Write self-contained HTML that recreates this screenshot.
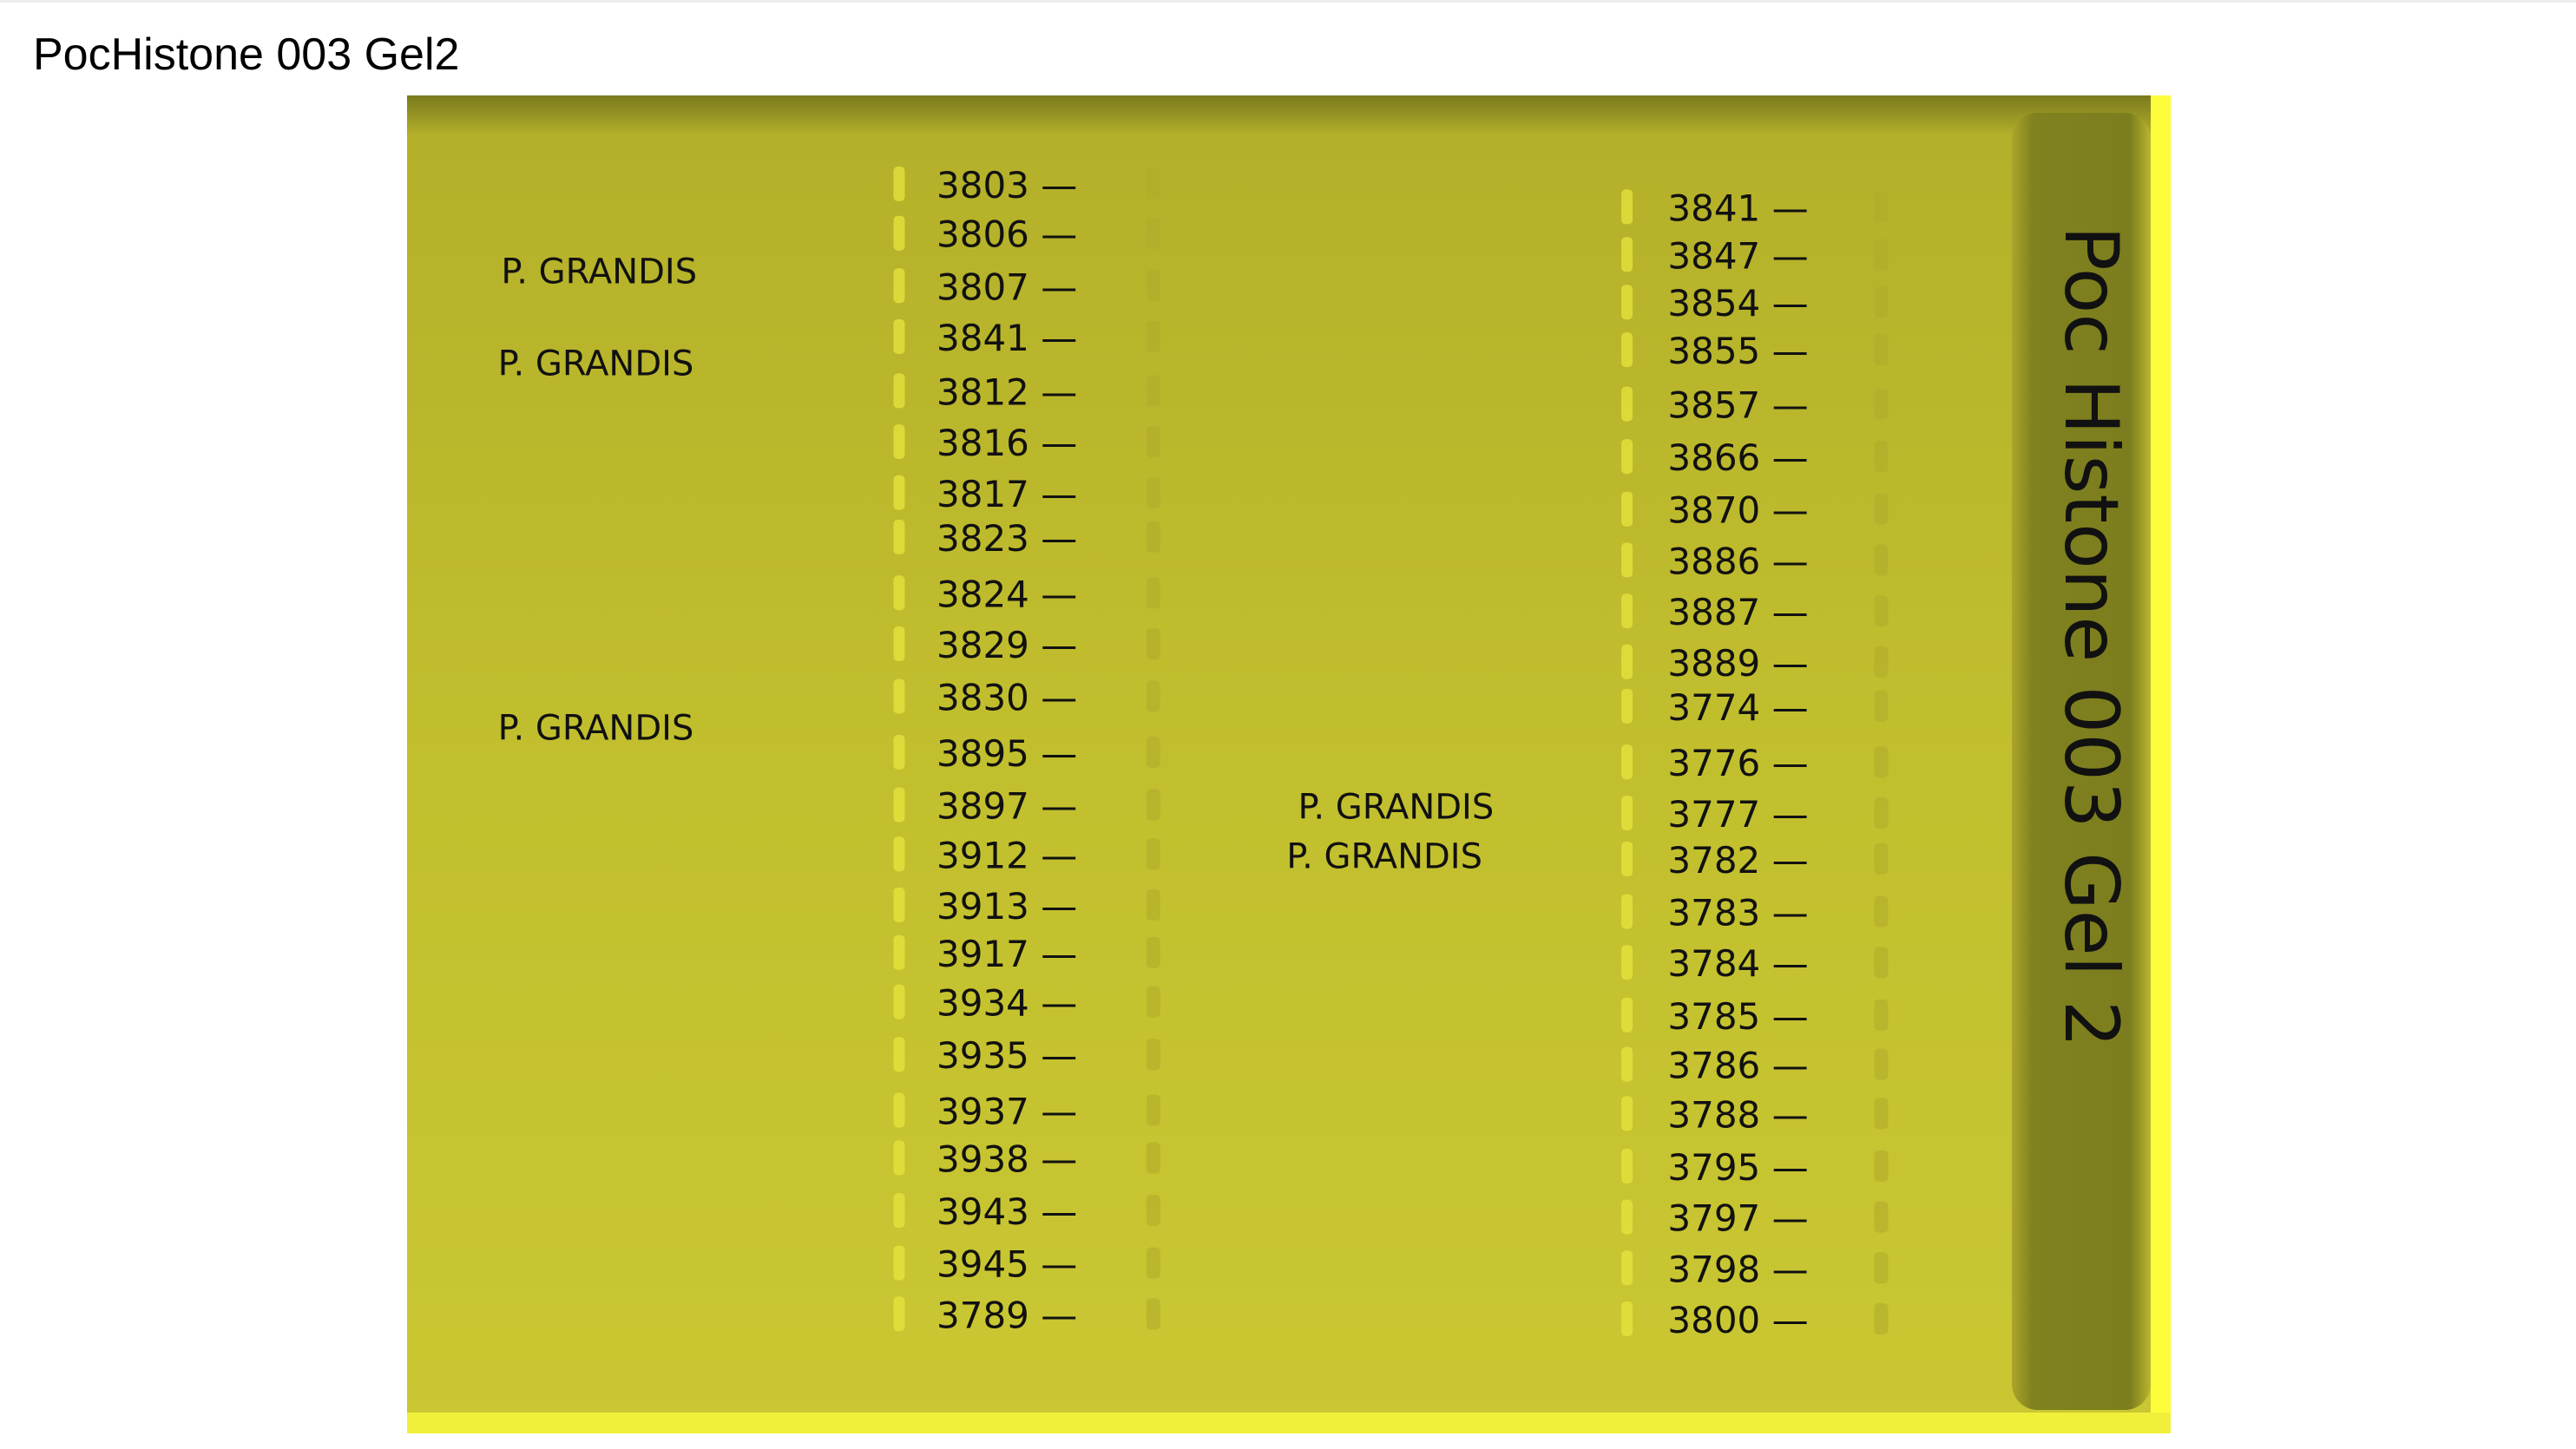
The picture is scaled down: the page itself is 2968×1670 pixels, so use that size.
<!DOCTYPE html>
<html><head><meta charset="utf-8"><style>
html,body{margin:0;padding:0;background:#fff;width:2968px;height:1670px;overflow:hidden}
svg{display:block}
.t{font-family:"Liberation Sans",sans-serif}
.h{font-family:"DejaVu Sans","Liberation Sans",sans-serif;fill:#111}
</style></head><body>
<svg id="s" width="2968" height="1670" viewBox="0 0 2968 1670" xmlns="http://www.w3.org/2000/svg">
<defs>
<linearGradient id="gv" x1="0" y1="0" x2="0" y2="1">
<stop offset="0" stop-color="#7a7a1e"/><stop offset="0.03" stop-color="#b4b02a"/><stop offset="0.5" stop-color="#c2bf2e"/><stop offset="1" stop-color="#cac733"/>
</linearGradient>
<linearGradient id="gp" x1="0" y1="0" x2="1" y2="0">
<stop offset="0" stop-color="#aaa52a"/><stop offset="0.15" stop-color="#80811f"/><stop offset="0.85" stop-color="#7c7d1e"/><stop offset="1" stop-color="#b8b62e"/>
</linearGradient>
</defs>
<rect x="0" y="0" width="2968" height="3" fill="#eeeeee"/>
<text class="t" x="38" y="80" font-size="52" fill="#000">PocHistone 003 Gel2</text>
<rect x="469" y="110" width="2032" height="1542" fill="url(#gv)"/>
<rect x="2318" y="130" width="160" height="1495" rx="30" fill="url(#gp)"/>
<rect x="2478" y="110" width="23" height="1542" fill="#fdfd3c"/>
<rect x="469" y="1628" width="2032" height="24" fill="#f0f03a"/>
<g id="wells"></g>
<g id="labels"></g>
<text class="h" transform="translate(2380,260) rotate(90)" font-size="86">Poc Histone 003 Gel 2</text>
</svg>
<script>
const leftIds=["3803","3806","3807","3841","3812","3816","3817","3823","3824","3829","3830","3895","3897","3912","3913","3917","3934","3935","3937","3938","3943","3945","3789"];
const leftY=[113,143,175,206,239,270,301,328,362,393,425,459,491,521,552,581,611,643,677,706,738,770,801];
const rightIds=["3841","3847","3854","3855","3857","3866","3870","3886","3887","3889","3774","3776","3777","3782","3783","3784","3785","3786","3788","3795","3797","3798","3800"];
const rightY=[127,156,185,214,247,279,311,342,373,404,431,465,496,524,556,587,619,649,679,711,742,773,804];
const grandisX=[305,303,303,790,783];
const grandisY=[165,221,443,491,521];
const S=1.893, NS="http://www.w3.org/2000/svg";
const W=document.getElementById('wells'), L=document.getElementById('labels');
function mk(tag,attrs,parent){const e=document.createElementNS(NS,tag);for(const k in attrs)e.setAttribute(k,attrs[k]);parent.appendChild(e);return e;}
function col(ids,ys,x,wx){
 ids.forEach((id,i)=>{
  const y=ys[i]*S;
  const w=mk('rect',{x:wx*S-6,y:y-22,width:13,height:40,rx:5,fill:'#e4e23c',opacity:0.8},W);
  
  
  const f=mk('rect',{x:(wx+155)*S-8,y:y-20,width:16,height:36,rx:5,fill:'#b0ac2c',opacity:0.6},W);
  
  
  const t=mk('text',{x:x*S,y:y+14,'font-size':42,class:'h'},L);
  t.textContent=id+' —';
  
  
 });
}
col(leftIds,leftY,570,547);
col(rightIds,rightY,1015,990);
grandisX.forEach((gx,i)=>{
 const t=mk('text',{x:gx*S,y:grandisY[i]*S+14,'font-size':40,class:'h'},L);
 t.textContent='P. GRANDIS';
 
 
});
</script>
</body></html>
